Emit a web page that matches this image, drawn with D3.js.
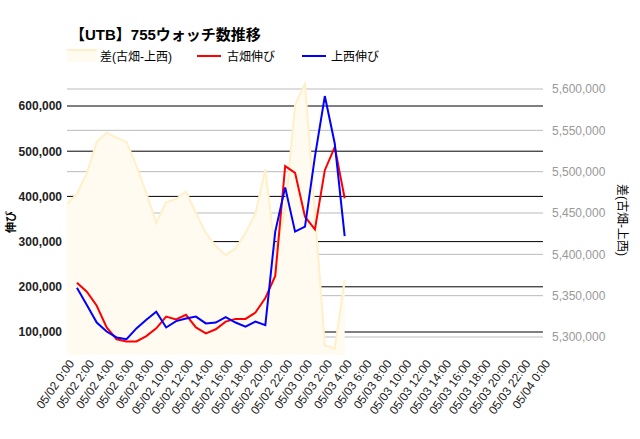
<!DOCTYPE html><html><head><meta charset="utf-8"><script src="https://cdn.jsdelivr.net/npm/d3@7"></script>
<style>body{margin:0;background:#fff;font-family:Arial,"Liberation Sans","Noto Sans CJK JP",sans-serif}</style></head><body><svg id="c" width="640" height="439"></svg><script>
const hours=d3.range(0,29);
const diffVals=[5461000,5473000,5498000,5536000,5547000,5541000,5536000,5507000,5474000,5438000,5463000,5467000,5476000,5450000,5426000,5410000,5399000,5407000,5426000,5449000,5503000,5403000,5452000,5581000,5606000,5450000,5290000,5286000,5369000];
const redVals=[null,209000,189000,158000,110000,84000,79000,79000,91000,108000,134000,128000,138000,110000,97000,106000,123000,129000,129000,143000,175000,224000,467000,452000,355000,327000,458000,509000,396000];
const blueVals=[null,198000,160000,121000,101000,88000,84000,108000,127000,145000,110000,124000,130000,134000,119000,121000,133000,121000,112000,123000,115000,322000,420000,322000,333000,488000,622000,517000,312000];
const leftTicks=[100000,200000,300000,400000,500000,600000];
const rightTicks=[5300000,5350000,5400000,5450000,5500000,5550000,5600000];
const xTicks=d3.range(0,49,2);
const svg=d3.select("#c");
const x0=67,x1=543,yT=80,yB=355;
const x=d3.scaleLinear().domain([0,48]).range([x0,x1]);
const yL=d3.scaleLinear().domain([100000,600000]).range([332,106]);
const yR=d3.scaleLinear().domain([5300000,5600000]).range([337,89]);
svg.append("g").selectAll("line").data(rightTicks).join("line").attr("x1",x0).attr("x2",x1).attr("y1",d=>yR(d)).attr("y2",d=>yR(d)).attr("stroke","#bbb");
svg.append("g").selectAll("line").data(leftTicks).join("line").attr("x1",x0).attr("x2",x1).attr("y1",d=>yL(d)).attr("y2",d=>yL(d)).attr("stroke","#000");
const ad=hours.map((h,i)=>({h,v:diffVals[i]}));
svg.append("path").datum(ad).attr("fill","#fffbf0").attr("d",d3.area().x(d=>x(d.h)).y0(yB).y1(d=>yR(d.v)));
svg.append("path").datum(ad).attr("fill","none").attr("stroke","#fff0c8").attr("stroke-width",2).attr("d",d3.line().x(d=>x(d.h)).y(d=>yR(d.v)));
function ln(vals,col){const d=hours.map((h,i)=>({h,v:vals[i]}));svg.append("path").datum(d).attr("fill","none").attr("stroke",col).attr("stroke-width",2).attr("d",d3.line().defined(d=>d.v!=null).x(d=>x(d.h)).y(d=>yL(d.v)));}
ln(redVals,"#f00");ln(blueVals,"#00f");
const fmt=d3.format(",");
const la=svg.append("g").attr("transform",`translate(${x0},0)`).call(d3.axisLeft(yL).tickValues(leftTicks).tickFormat(fmt).tickSize(0).tickPadding(5));
la.select(".domain").remove();la.selectAll("text").attr("font-size",12).attr("font-weight","bold").attr("fill","#222").attr("font-family","Arial");
const ra=svg.append("g").attr("transform",`translate(${x1},0)`).call(d3.axisRight(yR).tickValues(rightTicks).tickFormat(fmt).tickSize(0).tickPadding(9));
ra.select(".domain").remove();ra.selectAll("text").attr("font-size",12).attr("fill","#999").attr("font-family","Arial");
const fmtX=h=>{const d=Math.floor(h/24)+2;return `05/0${d} ${h%24}:00`;};
const xa=svg.append("g").attr("transform",`translate(0,${yB})`).call(d3.axisBottom(x).tickValues(xTicks).tickFormat(fmtX).tickSize(0));
xa.select(".domain").remove();
xa.selectAll("text").attr("font-size",12).attr("fill","#222").attr("font-family","Arial").attr("text-anchor","end").attr("transform","translate(4,6) rotate(-55)").attr("dy","0.35em").attr("y",0);
svg.append("text").attr("x",70).attr("y",40).attr("font-size",15).attr("font-weight","bold").text("【UTB】755ウォッチ数推移");
const lg=svg.append("g").attr("font-size",12);
lg.append("rect").attr("x",67).attr("y",50).attr("width",30).attr("height",12).attr("fill","#fffbf0");
lg.append("line").attr("x1",67).attr("x2",97).attr("y1",50).attr("y2",50).attr("stroke","#fff0c8").attr("stroke-width",2);
lg.append("text").attr("x",100).attr("y",61).text("差(古畑-上西)");
lg.append("line").attr("x1",197).attr("x2",221).attr("y1",56).attr("y2",56).attr("stroke","#f00").attr("stroke-width",2);
lg.append("text").attr("x",227).attr("y",61).text("古畑伸び");
lg.append("line").attr("x1",302).attr("x2",326).attr("y1",56).attr("y2",56).attr("stroke","#00f").attr("stroke-width",2);
lg.append("text").attr("x",331).attr("y",61).text("上西伸び");
svg.append("text").attr("transform","translate(15,222) rotate(-90)").attr("text-anchor","middle").attr("font-size",11).attr("font-weight","bold").text("伸び");
svg.append("text").attr("transform","translate(618,220) rotate(90)").attr("text-anchor","middle").attr("font-size",12).text("差(古畑-上西)");
</script></body></html>
